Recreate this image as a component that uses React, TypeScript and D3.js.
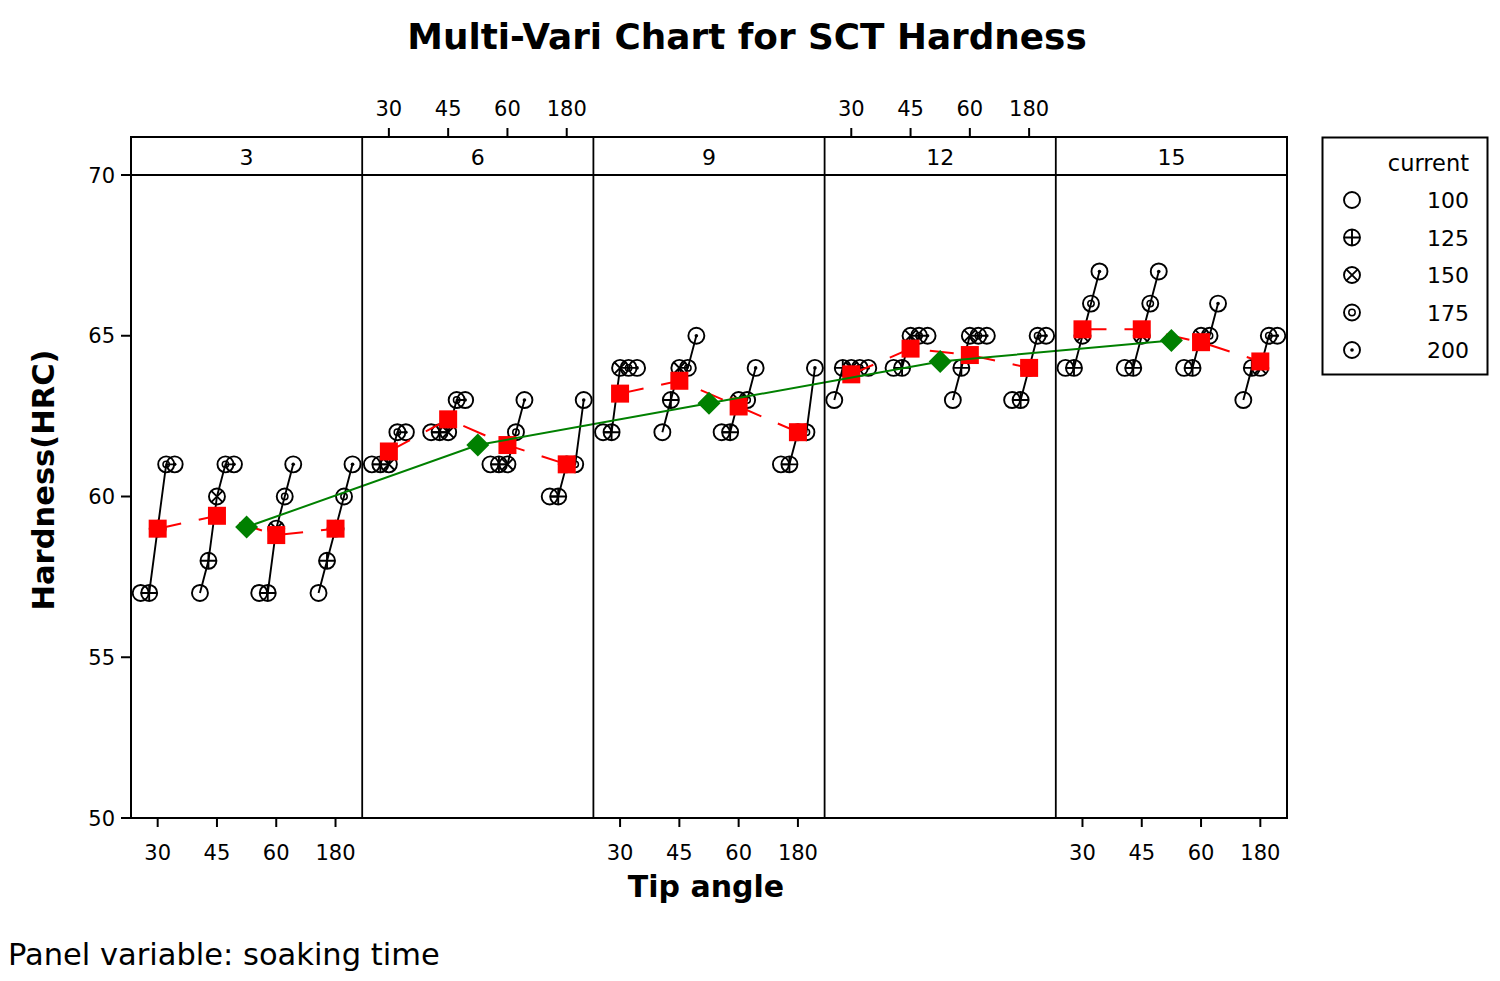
import React from "react";
import * as d3 from "d3";

const soakingTimes = [3, 6, 9, 12, 15];
const tipAngles = ["30", "45", "60", "180"];
const currents = [100, 125, 150, 175, 200];
const yTicks = [50, 55, 60, 65, 70];

// hardness[tipAngle][current] for each soaking time
const hardnessT3 = [
  [57, 57, 59, 61, 61],
  [57, 58, 60, 61, 61],
  [57, 57, 59, 60, 61],
  [57, 58, 59, 60, 61],
];
const hardnessT6 = [
  [61, 61, 61, 62, 62],
  [62, 62, 62, 63, 63],
  [61, 61, 61, 62, 63],
  [60, 60, 61, 61, 63],
];
const hardnessT9 = [
  [62, 62, 64, 64, 64],
  [62, 63, 64, 64, 65],
  [62, 62, 63, 63, 64],
  [61, 61, 62, 62, 64],
];
const hardnessT12 = [
  [63, 64, 64, 64, 64],
  [64, 64, 65, 65, 65],
  [63, 64, 65, 65, 65],
  [63, 63, 64, 65, 65],
];
const hardnessT15 = [
  [64, 64, 65, 66, 67],
  [64, 64, 65, 66, 67],
  [64, 64, 65, 65, 66],
  [63, 64, 64, 65, 65],
];
const hardnessByPanel = [hardnessT3, hardnessT6, hardnessT9, hardnessT12, hardnessT15];

const W = 1500;
const H = 981;
const plotLeft = 131;
const plotRight = 1287;
const stripTop = 137;
const plotTop = 175;
const plotBottom = 818;

const FONT = "'DejaVu Sans', Verdana, sans-serif";

function Symbol({ idx, x, y }: { idx: number; x: number; y: number }) {
  const r = 8;
  const sw = 1.9;
  const parts: React.ReactNode[] = [
    <circle key="c" cx={x} cy={y} r={r} fill="none" stroke="#000" strokeWidth={sw} />,
  ];
  if (idx === 1) {
    parts.push(
      <path key="p" d={`M${x - r},${y}H${x + r}M${x},${y - r}V${y + r}`} stroke="#000" strokeWidth={sw} />
    );
  } else if (idx === 2) {
    const k = r * 0.7071;
    parts.push(
      <path
        key="p"
        d={`M${x - k},${y - k}L${x + k},${y + k}M${x - k},${y + k}L${x + k},${y - k}`}
        stroke="#000"
        strokeWidth={sw}
      />
    );
  } else if (idx === 3) {
    parts.push(<circle key="p" cx={x} cy={y} r={3.2} fill="none" stroke="#000" strokeWidth={1.5} />);
  } else if (idx === 4) {
    parts.push(<circle key="p" cx={x} cy={y} r={1.8} fill="#000" />);
  }
  return <g>{parts}</g>;
}

export default function App() {
  const panelX = d3
    .scaleBand<string>()
    .domain(soakingTimes.map(String))
    .range([plotLeft, plotRight])
    .padding(0);
  const bw = panelX.bandwidth();
  const tipX = d3.scalePoint<string>().domain(tipAngles).range([0, bw]).padding(0.45);
  const curX = d3.scalePoint<string>().domain(currents.map(String)).range([-17, 17]);
  const y = d3.scaleLinear().domain([50, 70]).range([plotBottom, plotTop]);

  const line = d3
    .line<[number, number]>()
    .x((d) => d[0])
    .y((d) => d[1]);

  const panelMeans = soakingTimes.map((s, pi) => {
    const tipMeans = hardnessByPanel[pi].map((vals) => d3.mean(vals) as number);
    return {
      s,
      x0: panelX(String(s)) as number,
      tipMeans,
      mean: d3.mean(tipMeans) as number,
    };
  });

  return (
    <svg
      width={W}
      height={H}
      style={{ position: "absolute", left: 0, top: 0, background: "#fff" }}
      fontFamily={FONT}
    >
      <rect x={0} y={0} width={W} height={H} fill="#fff" />
      {/* Title */}
      <text x={747} y={49} textAnchor="middle" fontWeight="bold" fontSize={35.8}>
        Multi-Vari Chart for SCT Hardness
      </text>

      {/* Data */}
      {panelMeans.map((pm, pi) => (
        <g key={pm.s}>
          {hardnessByPanel[pi].map((vals, ti) => {
            const cx = pm.x0 + (tipX(tipAngles[ti]) as number);
            const pts: [number, number][] = vals.map((v, ci) => [
              cx + (curX(String(currents[ci])) as number),
              y(v),
            ]);
            return (
              <g key={ti}>
                <path d={line(pts) as string} fill="none" stroke="#000" strokeWidth={1.9} />
                {pts.map((p, ci) => (
                  <Symbol key={ci} idx={ci} x={p[0]} y={p[1]} />
                ))}
              </g>
            );
          })}
          <path
            d={
              line(
                pm.tipMeans.map((m, ti) => [pm.x0 + (tipX(tipAngles[ti]) as number), y(m)] as [number, number])
              ) as string
            }
            fill="none"
            stroke="#ff0000"
            strokeWidth={2}
            strokeDasharray="24 18"
          />
          {pm.tipMeans.map((m, ti) => (
            <rect
              key={ti}
              x={pm.x0 + (tipX(tipAngles[ti]) as number) - 9}
              y={y(m) - 9}
              width={18}
              height={18}
              fill="#ff0000"
            />
          ))}
        </g>
      ))}

      {/* Panel means */}
      <path
        d={line(panelMeans.map((pm) => [pm.x0 + bw / 2, y(pm.mean)] as [number, number])) as string}
        fill="none"
        stroke="#008000"
        strokeWidth={2}
      />
      {panelMeans.map((pm) => {
        const cx = pm.x0 + bw / 2;
        const cy = y(pm.mean);
        const d = 11.5;
        return (
          <path
            key={pm.s}
            d={`M${cx},${cy - d}L${cx + d},${cy}L${cx},${cy + d}L${cx - d},${cy}Z`}
            fill="#008000"
          />
        );
      })}

      {/* Frame & strips */}
      <rect
        x={plotLeft}
        y={stripTop}
        width={plotRight - plotLeft}
        height={plotBottom - stripTop}
        fill="none"
        stroke="#000"
        strokeWidth={2}
      />
      <line x1={plotLeft} x2={plotRight} y1={plotTop} y2={plotTop} stroke="#000" strokeWidth={2} />
      {soakingTimes.slice(1).map((s) => (
        <line
          key={s}
          x1={panelX(String(s)) as number}
          x2={panelX(String(s)) as number}
          y1={stripTop}
          y2={plotBottom}
          stroke="#000"
          strokeWidth={1.8}
        />
      ))}
      {soakingTimes.map((s) => (
        <text
          key={s}
          x={(panelX(String(s)) as number) + bw / 2}
          y={165}
          textAnchor="middle"
          fontSize={22}
        >
          {s}
        </text>
      ))}

      {/* Y axis */}
      {yTicks.map((t) => (
        <g key={t}>
          <line x1={plotLeft - 10} x2={plotLeft} y1={y(t)} y2={y(t)} stroke="#000" strokeWidth={2} />
          <text x={115} y={y(t) + 7.5} textAnchor="end" fontSize={21}>
            {t}
          </text>
        </g>
      ))}
      <text
        transform={`translate(54,480) rotate(-90)`}
        textAnchor="middle"
        fontWeight="bold"
        fontSize={30.5}
      >
        Hardness(HRC)
      </text>

      {/* Tip angle axes: bottom for panels 0,2,4; top for 1,3 */}
      {soakingTimes.map((s, pi) => {
        const x0 = panelX(String(s)) as number;
        const bottom = pi % 2 === 0;
        return (
          <g key={s}>
            {tipAngles.map((a) => {
              const tx = x0 + (tipX(a) as number);
              return bottom ? (
                <g key={a}>
                  <line x1={tx} x2={tx} y1={plotBottom} y2={plotBottom + 9} stroke="#000" strokeWidth={2} />
                  <text x={tx} y={860} textAnchor="middle" fontSize={21}>
                    {a}
                  </text>
                </g>
              ) : (
                <g key={a}>
                  <line x1={tx} x2={tx} y1={stripTop} y2={stripTop - 9} stroke="#000" strokeWidth={2} />
                  <text x={tx} y={116} textAnchor="middle" fontSize={21}>
                    {a}
                  </text>
                </g>
              );
            })}
          </g>
        );
      })}
      <text x={706} y={897} textAnchor="middle" fontWeight="bold" fontSize={30}>
        Tip angle
      </text>
      <text x={8} y={965} fontSize={30.5}>
        Panel variable: soaking time
      </text>

      {/* Legend */}
      <rect x={1322.5} y={137.5} width={165} height={237} fill="none" stroke="#000" strokeWidth={2} />
      <text x={1469} y={171} textAnchor="end" fontSize={22.5}>
        current
      </text>
      {currents.map((c, i) => {
        const cy = 200 + i * 37.5;
        return (
          <g key={c}>
            <Symbol idx={i} x={1352} y={cy} />
            <text x={1469} y={cy + 8} textAnchor="end" fontSize={22}>
              {c}
            </text>
          </g>
        );
      })}
    </svg>
  );
}
